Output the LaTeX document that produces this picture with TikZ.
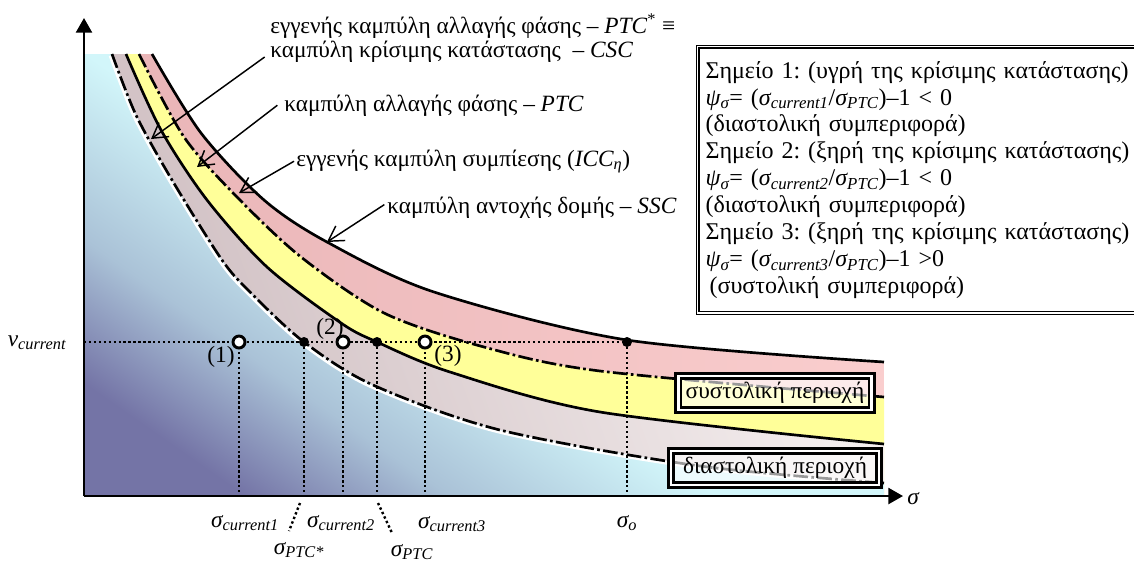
\documentclass[tikz,border=0pt]{standalone}
\usepackage{fontspec}
\setmainfont{Liberation Serif}
\usetikzlibrary{arrows.meta}
\frenchspacing
\definecolor{bdark}{RGB}{116,116,166}
\definecolor{bmid}{RGB}{170,194,215}
\definecolor{blight}{RGB}{210,246,250}
\definecolor{pinkA}{RGB}{234,182,184}
\definecolor{pinkB}{RGB}{250,206,206}
\definecolor{yellowband}{RGB}{255,255,153}
\definecolor{greyA}{RGB}{210,194,197}
\definecolor{greyB}{RGB}{244,238,238}
\pgfdeclarehorizontalshading{bluefade}{100bp}{color(0bp)=(bdark); color(23bp)=(bdark); color(33bp)=(bmid); color(46bp)=(blight); color(100bp)=(blight)}
\pgfdeclarehorizontalshading{greyfade}{100bp}{color(0bp)=(greyA); color(30bp)=(greyA); color(70bp)=(greyB); color(100bp)=(greyB)}
\pgfdeclarehorizontalshading{pinkfade}{100bp}{color(0bp)=(pinkA); color(30bp)=(pinkA); color(75bp)=(pinkB); color(100bp)=(pinkB)}
\begin{document}
\begin{tikzpicture}[x=0.75pt,y=-0.75pt,
  every node/.style={font=\fontsize{17.5}{20.2}\selectfont},
  curve/.style={line width=2pt},
  dashdot/.style={line width=2pt, dash pattern=on 11pt off 2.5pt on 2pt off 2.5pt},
  halo/.style={white, line width=2.6pt},
  guide/.style={line width=1.8pt, dash pattern=on 1.8pt off 1.9pt},
  axisline/.style={line width=1.8pt, -{Triangle[length=11pt,width=12pt]}},
  callout/.style={line width=1.1pt, -{Straight Barb[length=11pt,width=13pt]}},
  opendot/.style={circle, draw, fill=white, line width=2.2pt, minimum size=9pt, inner sep=0pt},
  fulldot/.style={circle, fill=black, minimum size=7.5pt, inner sep=0pt},
  lbl/.style={inner sep=0pt, anchor=base west},
  infobox/.style={draw, line width=0.9pt, double, double distance=1.3pt, fill=white,
    align=left, text width=320pt, minimum height=200pt, inner xsep=6pt,
    font=\fontsize{18}{20.2}\selectfont},
  regionbox/.style={draw, line width=2pt, double, double distance=2pt, fill=white,
    fill opacity=0.6, text opacity=1, inner sep=1pt, minimum height=25.5pt}
]
\useasboundingbox (0,0) rectangle (1134,562);

% ---- coloured bands (painter's order) ----
\shade[shading=pinkfade, shading angle=0] (84,54) -- plot[smooth] coordinates {(152,54) (201,133) (264,200) (327,242) (434,292) (627,340) (884,362)} -- (884,496) -- (84,496) -- cycle;
\fill[yellowband] (84,54) -- plot[smooth] coordinates {(139,54) (184,137) (237,197) (301,257) (384,313) (484,347) (600,371) (884,397)} -- (884,496) -- (84,496) -- cycle;
\shade[shading=greyfade, shading angle=20] (84,54) -- plot[smooth] coordinates {(126,54) (161,130) (207,200) (267,267) (341,323) (377,342) (450,372) (600,412) (884,444)} -- (884,496) -- (84,496) -- cycle;
\shade[shading=bluefade, shading angle=55] (84,54) -- plot[smooth] coordinates {(112,54) (136,115) (172,180) (222,260) (252,294) (304,342) (373,385) (500,430) (700,466) (884,483)} -- (884,496) -- (84,496) -- cycle;

% ---- curves ----
\draw[halo, shift={(-1.6,1.6)}] plot[smooth] coordinates {(112,54) (136,115) (172,180) (222,260) (252,294) (304,342) (373,385) (500,430) (700,466) (884,483)};
\draw[dashdot] plot[smooth] coordinates {(112,54) (136,115) (172,180) (222,260) (252,294) (304,342) (373,385) (500,430) (700,466) (884,483)};
\draw[curve] plot[smooth] coordinates {(126,54) (161,130) (207,200) (267,267) (341,323) (377,342) (450,372) (600,412) (884,444)};
\draw[dashdot] plot[smooth] coordinates {(139,54) (184,137) (237,197) (301,257) (384,313) (484,347) (600,371) (884,397)};
\draw[curve] plot[smooth] coordinates {(152,54) (201,133) (264,200) (327,242) (434,292) (627,340) (884,362)};

% ---- axes ----
\coordinate (O) at (84,496);
\coordinate (ytip) at (84,18);
\coordinate (xtip) at (903,496);
\draw[axisline] (O) -- (ytip);
\draw[axisline] (O) -- (xtip);
\node (ls) at (913,499) {\itshape σ};
\node (lv) at (37,343) {\itshape v\textsubscript{current}};

% ---- guide lines ----
\coordinate (yv) at (84,342);
\coordinate (c1) at (239,342);
\coordinate (c2) at (304,342);
\coordinate (c3) at (343,342);
\coordinate (c4) at (377,342);
\coordinate (c5) at (425,342);
\coordinate (c6) at (627,342);
\draw[guide] (yv) -- (c6);
\foreach \c in {c1,c2,c3,c4,c5,c6} \draw[guide] (\c) -- ([yshift=1pt]\c |- O);
\coordinate (s1a) at (300,503);
\coordinate (s1b) at (289,531);
\coordinate (s2a) at (378,503);
\coordinate (s2b) at (392,533);
\draw[guide] (s1a) -- (s1b);
\draw[guide] (s2a) -- (s2b);

% ---- points ----
\node[opendot] (p1) at (c1) {};
\node[fulldot] (q1) at (c2) {};
\node[opendot] (p2) at (c3) {};
\node[fulldot] (q2) at (c4) {};
\node[opendot] (p3) at (c5) {};
\node[fulldot] (q3) at (c6) {};
\node (n1) at (221,357) {(1)};
\node (n2) at (330,329) {(2)};
\node (n3) at (448,356) {(3)};

% ---- axis labels ----
\node (lc1) at (245,523) {\itshape σ\textsubscript{current1}};
\node (lp1) at (299,550) {\itshape σ\textsubscript{PTC*}};
\node (lc2) at (341,523) {\itshape σ\textsubscript{current2}};
\node (lp2) at (412,552) {\itshape σ\textsubscript{PTC}};
\node (lc3) at (452,524) {\itshape σ\textsubscript{current3}};
\node (lso) at (627,523) {\itshape σ\textsubscript{o}};

% ---- curve labels ----
\node[lbl] (L1a) at (270,33) {εγγενής καμπύλη αλλαγής φάσης – \textit{PTC}\textsuperscript{*} ≡};
\node[lbl] (L1b) at (270,57) {καμπύλη κρίσιμης κατάστασης \ – \textit{CSC}};
\node[lbl] (L2) at (284,111) {καμπύλη αλλαγής φάσης – \textit{PTC}};
\node[lbl] (L3) at (296,166) {εγγενής καμπύλη συμπίεσης (\textit{ICC\textsubscript{η}})};
\node[lbl] (L4) at (387,213) {καμπύλη αντοχής δομής – \textit{SSC}};
\coordinate (tCSC) at (151,139);
\coordinate (tPTC) at (197,167);
\coordinate (tICC) at (239,193);
\coordinate (tSSC) at (327,242);
\draw[callout] ([xshift=-4pt]L1b.base west) -- (tCSC);
\draw[callout] ([xshift=-5pt]L2.west) -- (tPTC);
\draw[callout] ([xshift=-1.5pt]L3.west) -- (tICC);
\draw[callout] ([xshift=-2pt,yshift=2pt]L4.west) -- (tSSC);

% ---- region boxes ----
\node[regionbox, minimum width=145pt] (sys) at (775,393) {συστολική περιοχή};
\node[regionbox, minimum width=156pt] (dia) at (775,468) {διαστολική περιοχή};

% ---- info box ----
\node[infobox, anchor=north west] (info) at (697,46) {%
Σημείο 1: (υγρή της κρίσιμης κατάστασης)\\
{\itshape ψ\textsubscript{σ}}= ({\itshape σ\textsubscript{current1}}/{\itshape σ\textsubscript{PTC}})–1 < 0\\
(διαστολική συμπεριφορά)\\
Σημείο 2: (ξηρή της κρίσιμης κατάστασης)\\
{\itshape ψ\textsubscript{σ}}= ({\itshape σ\textsubscript{current2}}/{\itshape σ\textsubscript{PTC}})–1 < 0\\
(διαστολική συμπεριφορά)\\
Σημείο 3: (ξηρή της κρίσιμης κατάστασης)\\
{\itshape ψ\textsubscript{σ}}= ({\itshape σ\textsubscript{current3}}/{\itshape σ\textsubscript{PTC}})–1 >0\\
\hspace*{3pt}(συστολική συμπεριφορά)};
\end{tikzpicture}
\end{document}
